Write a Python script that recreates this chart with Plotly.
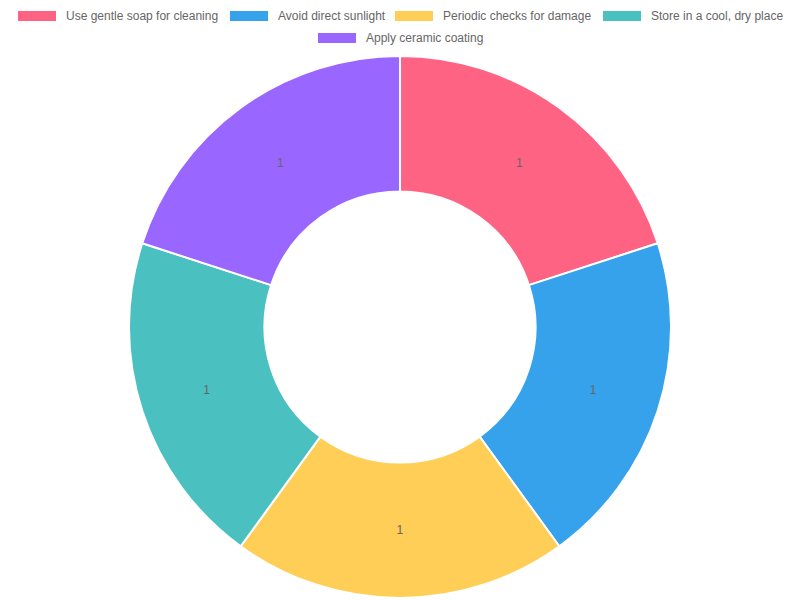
import plotly.graph_objects as go

labels = ["Use gentle soap for cleaning", "Avoid direct sunlight",
          "Periodic checks for damage", "Store in a cool, dry place",
          "Apply ceramic coating"]
values = [1, 1, 1, 1, 1]
colors = ["#FF6384", "#36A2EB", "#FFCE56", "#4BC0C0", "#9966FF"]

# legend layout (pixel positions of swatch left edge, row centre)
legend_x = [18, 230, 395, 603, 318]
legend_y = [16, 16, 16, 16, 38]

W, H = 800, 600

fig = go.Figure(go.Pie(
    labels=labels, values=values, sort=False, direction="clockwise",
    rotation=0, hole=0.5,
    marker=dict(colors=colors, line=dict(color="white", width=2)),
    textinfo="value", textposition="inside", insidetextorientation="horizontal",
    textfont=dict(size=12, color="#666666", family="Liberation Sans, Arial"),
    hoverinfo="label+value",
    domain=dict(x=[129 / W, 671 / W], y=[2 / H, 544 / H]),
    showlegend=False,
))

shapes = []
annotations = []
for lab, col, lx, ly in zip(labels, colors, legend_x, legend_y):
    shapes.append(dict(type="rect", xref="paper", yref="paper",
                       x0=lx / W, x1=(lx + 38) / W,
                       y0=1 - (ly + 5) / H, y1=1 - (ly - 5) / H,
                       fillcolor=col, line=dict(width=0)))
    annotations.append(dict(text=lab, xref="paper", yref="paper",
                            x=(lx + 46) / W, y=1 - ly / H,
                            xanchor="left", yanchor="middle", showarrow=False,
                            font=dict(size=12, color="#666666",
                                      family="Liberation Sans, Arial")))

fig.update_layout(
    width=W, height=H, margin=dict(l=0, r=0, t=0, b=0),
    paper_bgcolor="white", plot_bgcolor="white",
    shapes=shapes, annotations=annotations,
)

fig.write_html("out.html")
